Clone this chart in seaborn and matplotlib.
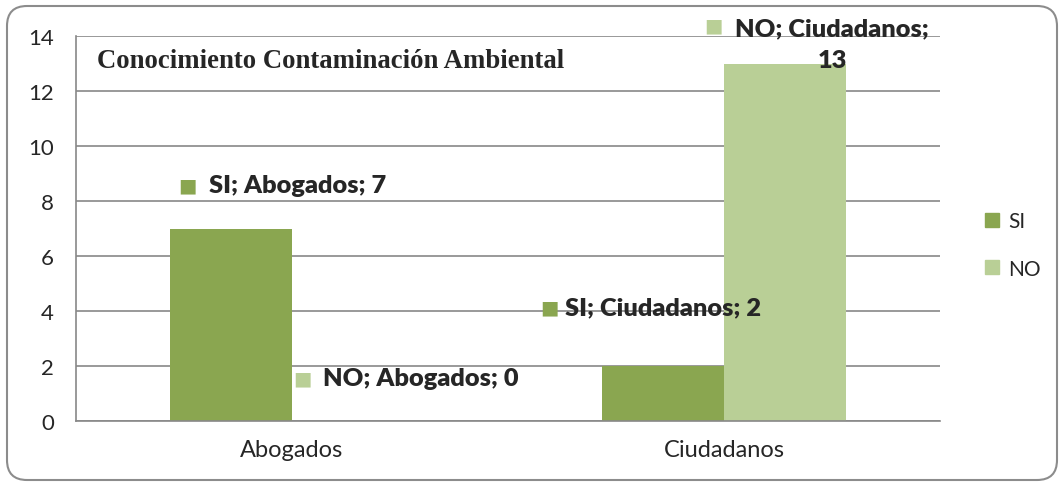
import matplotlib
matplotlib.use("Agg")
import matplotlib.pyplot as plt
import matplotlib.transforms as mtransforms
import pandas as pd
import seaborn as sns
from matplotlib.patches import FancyBboxPatch
from matplotlib.lines import Line2D

# data
categories = ["Abogados", "Ciudadanos"]
series = ["SI", "NO"]
si_values = [7, 2]
no_values = [0, 13]
y_ticks = [0, 2, 4, 6, 8, 10, 12, 14]
title = "Conocimiento Contaminación Ambiental"

colors = {"SI": "#8aa650", "NO": "#b9cf96"}
grid_color = "#888888"

df = pd.DataFrame({
    "grupo": categories * 2,
    "serie": [series[0]] * len(categories) + [series[1]] * len(categories),
    "valor": si_values + no_values,
})

sns.set_style("white")
plt.rcParams["font.family"] = ["Lato", "DejaVu Sans"]

W, H = 1062, 485
fig = plt.figure(figsize=(W / 100, H / 100), dpi=100)
ax = fig.add_axes([76 / W, 63 / H, 864 / W, 385 / H])

sns.barplot(data=df, x="grupo", y="valor", hue="serie", hue_order=series,
            palette=colors, width=0.566, gap=0, saturation=1,
            linewidth=0, legend=False, ax=ax)

ax.set_xlim(-0.5, len(categories) - 0.5)
ax.set_ylim(0, 14)
ax.set_yticks(y_ticks)
ax.set_xlabel("")
ax.set_ylabel("")
ax.yaxis.grid(True, color=grid_color, lw=1.2)
ax.set_axisbelow(True)
for s in ["top", "right"]:
    ax.spines[s].set_visible(False)
for s in ["left", "bottom"]:
    ax.spines[s].set_color(grid_color)
    ax.spines[s].set_linewidth(1.2)

# category boundaries get the tick marks, labels sit at the centres
ax.set_xticks([i - 0.5 for i in range(len(categories) + 1)])
ax.set_xticklabels([])
ax.set_xticks(range(len(categories)), minor=True)
ax.set_xticklabels(categories, minor=True)
ax.tick_params(axis="x", which="major", length=5, width=1.2, color=grid_color)
ax.tick_params(axis="x", which="minor", length=0, pad=13, labelsize=17)
ax.tick_params(axis="y", length=5, width=1.2, color=grid_color, pad=11, labelsize=16)

# title inside the plot area
fig.text(97 / W, 1 - 62 / H, title, fontsize=19.3, fontweight="bold",
         family=["Liberation Serif", "DejaVu Serif"], va="center", ha="left")

# data labels: (text dx, dy, square dx) in pixels from the bar top
offsets = {
    ("SI", 0): (-22, 43.5, -43),
    ("SI", 1): (-98, 59, -113),
    ("NO", 0): (-30, 43, -51),
    ("NO", 1): (-50, 19, -72),
}
lab_font = dict(fontsize=18.3, fontweight="heavy")
for serie, cont in zip(series, ax.containers):
    for i, bar in enumerate(cont.patches):
        xc = bar.get_x() + bar.get_width() / 2
        val = bar.get_height()
        label = f"{serie}; {categories[i]}; {val:g}"
        tdx, dy, sdx = offsets[(serie, i)]
        sq_dy = dy
        if serie == "NO" and i == 1:
            label = f"{serie}; {categories[i]};\n{val:g}"
            sq_dy = dy + 19.5
        ax.annotate(label, (xc, val), xytext=(tdx, dy), textcoords="offset pixels",
                    ha="left", va="center", multialignment="center",
                    linespacing=1.55, **lab_font)
        ax.annotate("■", (xc, val), xytext=(sdx, sq_dy), textcoords="offset pixels",
                    ha="center", va="center", fontsize=14, color=colors[serie],
                    family="DejaVu Sans")

handles = [Line2D([], [], marker="s", linestyle="", markersize=10,
                  markerfacecolor=colors[s], markeredgecolor=colors[s]) for s in series]
fig.legend(handles, series, loc="center left", bbox_to_anchor=(975 / W, 1 - 246 / H),
           frameon=False, fontsize=15, handlelength=0.8, handletextpad=0.4,
           labelspacing=1.3, borderaxespad=0)

# rounded outer frame
frame = FancyBboxPatch((7, 4), 1050, 474, boxstyle="round,pad=0,rounding_size=20",
                       transform=mtransforms.IdentityTransform(),
                       fill=False, edgecolor="#8c8c8c", linewidth=1.5)
fig.add_artist(frame)

fig.savefig("out.png", dpi=100)
